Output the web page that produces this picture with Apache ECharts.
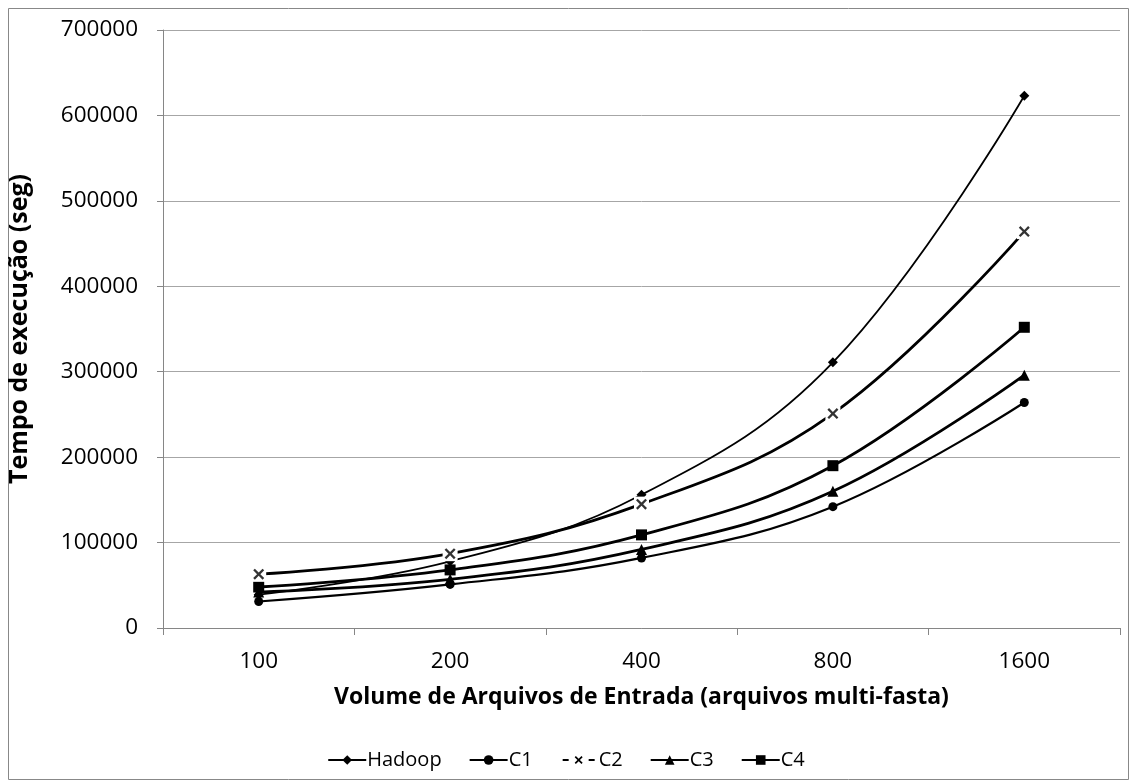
<!DOCTYPE html>
<html>
<head>
<meta charset="utf-8">
<script src="https://cdn.jsdelivr.net/npm/echarts@6/dist/echarts.min.js"></script>
<style>html,body{margin:0;padding:0;background:#fff;}#c{width:1132px;height:783px;}</style>
</head>
<body>
<div id="c"></div>
<script>
const categories = ['100', '200', '400', '800', '1600'];
const hadoop = [39000, 78000, 156000, 311000, 623000];
const c1 = [31000, 51000, 82000, 142000, 264000];
const c2 = [63000, 87000, 145000, 251000, 464000];
const c3 = [42000, 57000, 92000, 160000, 296000];
const c4 = [48000, 68000, 109000, 190000, 352000];
const yTicks = [0, 100000, 200000, 300000, 400000, 500000, 600000, 700000];
const yTitle = 'Tempo de execução (seg)';
const xTitle = 'Volume de Arquivos de Entrada (arquivos multi-fasta)';

const FONT = 'Open Sans';
const crossPath = 'path://M0,1.5 L1.5,0 L5,3.5 L8.5,0 L10,1.5 L6.5,5 L10,8.5 L8.5,10 L5,6.5 L1.5,10 L0,8.5 L3.5,5 Z';
const c2LegendIcon = 'path://M3,3 H9 V5 H3 Z M29,3 H35 V5 H29 Z M0,3.5 H0.01 V4.5 H0 Z M38,3.5 H37.99 V4.5 H38 Z ' +
  'M15,1.2 L16.2,0 L19,2.8 L21.8,0 L23,1.2 L20.2,4 L23,6.8 L21.8,8 L19,5.2 L16.2,8 L15,6.8 L17.8,4 Z';

const chart = echarts.init(document.getElementById('c'), null, {renderer: 'canvas'});

function mk(name, data, symbol, size, width, extra) {
  return Object.assign({
    name: name, type: 'line', data: data, smooth: 0.4,
    symbol: symbol, symbolSize: size, showSymbol: true,
    lineStyle: {color: '#000', width: width},
    itemStyle: {color: '#000'},
    emphasis: {disabled: true},
    z: 3
  }, extra || {});
}

chart.setOption({
  animation: false,
  backgroundColor: '#fff',
  graphic: [{
    type: 'rect', left: 6, top: 6,
    shape: {width: 1120, height: 771},
    style: {fill: 'none', stroke: '#888', lineWidth: 1}, silent: true, z: -1
  }, {
    type: 'text', x: 20, y: 329, rotation: Math.PI / 2, silent: true,
    style: {text: yTitle, fontFamily: FONT, fontSize: 25, fontWeight: 'bold', fill: '#000',
      align: 'center', verticalAlign: 'middle'}
  }],
  grid: {left: 163, right: 12, top: 30, bottom: 155, containLabel: false},
  legend: {
    bottom: 8, left: 'center', itemGap: 27, itemWidth: 38, itemHeight: 12,
    textStyle: {fontFamily: FONT, fontSize: 20, color: '#000', padding: [0, 0, 0, -4]},
    data: ['Hadoop', 'C1',
      {name: 'C2', icon: c2LegendIcon, itemStyle: {color: '#000', borderWidth: 0}},
      'C3', 'C4']
  },
  xAxis: {
    type: 'category', data: categories, boundaryGap: true,
    axisLine: {lineStyle: {color: '#868686', width: 1}},
    axisTick: {show: true, length: 7, lineStyle: {color: '#868686'}, alignWithLabel: false},
    axisLabel: {fontFamily: FONT, fontSize: 22.5, color: '#000', margin: 22},
    name: xTitle,
    nameLocation: 'middle', nameGap: 58,
    nameTextStyle: {fontFamily: FONT, fontSize: 23, fontWeight: 'bold', color: '#000'}
  },
  yAxis: {
    type: 'value', min: 0, max: 700000, interval: 100000,
    axisLine: {show: true, lineStyle: {color: '#868686', width: 1}},
    axisTick: {show: true, length: 6, lineStyle: {color: '#868686'}},
    splitLine: {show: true, lineStyle: {color: '#a6a6a6', width: 1}},
    axisLabel: {fontFamily: FONT, fontSize: 22.5, color: '#000', margin: 25,
      formatter: function (v) { return yTicks.indexOf(v) >= 0 ? String(v) : ''; }}
  },
  series: [
    mk('Hadoop', hadoop, 'diamond', 10, 1.8),
    mk('C1', c1, 'circle', 9, 2.2),
    mk('C2', c2, 'rect', 15, 2.8, {itemStyle: {color: '#fff'}, z: 4}),
    {
      name: 'C2', type: 'scatter', data: c2, symbol: crossPath, symbolSize: 11,
      itemStyle: {color: '#000'}, emphasis: {disabled: true}, z: 5
    },
    mk('C3', c3, 'triangle', 11, 2.8),
    mk('C4', c4, 'rect', 11, 2.8)
  ]
});
</script>
</body>
</html>
